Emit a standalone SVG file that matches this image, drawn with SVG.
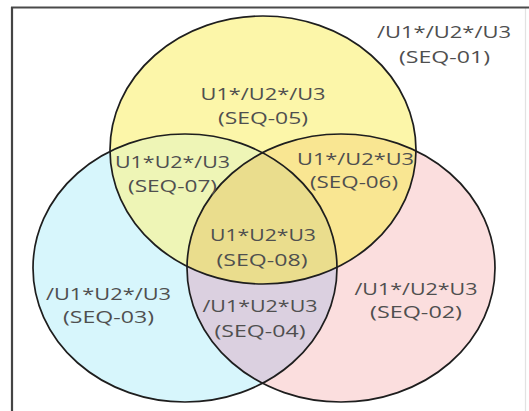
<svg xmlns="http://www.w3.org/2000/svg" width="529" height="411" viewBox="0 0 529 411">
  <style>
    .lbl { font-family: "Open Sans", "Noto Sans", "Liberation Sans", sans-serif; font-size: 17px; fill: #4f4f4f; text-anchor: middle; }
    .ring { fill: none; stroke: #1e1e1e; stroke-width: 1.7; }
  </style>
  <defs>
    <ellipse id="eU1" cx="263" cy="150" rx="153" ry="134"/>
    <ellipse id="eU2" cx="185" cy="268" rx="152" ry="134"/>
    <ellipse id="eU3" cx="341" cy="268" rx="154" ry="134"/>
    <clipPath id="cU1"><use href="#eU1"/></clipPath>
    <clipPath id="cU2"><use href="#eU2"/></clipPath>
    <clipPath id="cU3"><use href="#eU3"/></clipPath>
  </defs>

  <rect x="0" y="0" width="529" height="411" fill="#ffffff"/>

  <g id="frame">
    <line x1="525.5" y1="8" x2="525.5" y2="411" stroke="#e2e2e2" stroke-width="1.2"/>
    <line x1="11" y1="7.5" x2="529" y2="7.5" stroke="#4a4a4a" stroke-width="2.2"/>
    <line x1="12" y1="7" x2="12" y2="411" stroke="#444444" stroke-width="2.2"/>
  </g>

  <g id="fills">
    <use href="#eU2" fill="#d7f6fc"/>
    <use href="#eU3" fill="#fbdede"/>
    <use href="#eU1" fill="#fcf6a9"/>
    <g clip-path="url(#cU2)"><use href="#eU3" fill="#dbd0e0"/></g>
    <g clip-path="url(#cU1)"><use href="#eU2" fill="#eef5b6"/></g>
    <g clip-path="url(#cU1)"><use href="#eU3" fill="#f9e692"/></g>
    <g clip-path="url(#cU1)"><g clip-path="url(#cU2)"><use href="#eU3" fill="#eadd8d"/></g></g>
  </g>

  <g id="set-U2"><use href="#eU2" class="ring"/></g>
  <g id="set-U3"><use href="#eU3" class="ring"/></g>
  <g id="set-U1"><use href="#eU1" class="ring"/></g>

  <g id="seq-01">
    <text class="lbl" x="444" y="38" textLength="134" lengthAdjust="spacingAndGlyphs">/U1*/U2*/U3</text>
    <text class="lbl" x="444.5" y="63" textLength="91" lengthAdjust="spacingAndGlyphs">(SEQ-01)</text>
  </g>
  <g id="seq-05">
    <text class="lbl" x="263" y="100" textLength="125" lengthAdjust="spacingAndGlyphs">U1*/U2*/U3</text>
    <text class="lbl" x="263" y="124" textLength="90" lengthAdjust="spacingAndGlyphs">(SEQ-05)</text>
  </g>
  <g id="seq-07">
    <text class="lbl" x="172.5" y="168" textLength="115" lengthAdjust="spacingAndGlyphs">U1*U2*/U3</text>
    <text class="lbl" x="172.5" y="192" textLength="89" lengthAdjust="spacingAndGlyphs">(SEQ-07)</text>
  </g>
  <g id="seq-06">
    <text class="lbl" x="355.5" y="165" textLength="117" lengthAdjust="spacingAndGlyphs">U1*/U2*U3</text>
    <text class="lbl" x="354" y="188" textLength="88" lengthAdjust="spacingAndGlyphs">(SEQ-06)</text>
  </g>
  <g id="seq-08">
    <text class="lbl" x="263" y="241" textLength="106" lengthAdjust="spacingAndGlyphs">U1*U2*U3</text>
    <text class="lbl" x="262" y="266" textLength="91" lengthAdjust="spacingAndGlyphs">(SEQ-08)</text>
  </g>
  <g id="seq-03">
    <text class="lbl" x="108.5" y="300" textLength="125" lengthAdjust="spacingAndGlyphs">/U1*U2*/U3</text>
    <text class="lbl" x="108.5" y="323" textLength="91" lengthAdjust="spacingAndGlyphs">(SEQ-03)</text>
  </g>
  <g id="seq-04">
    <text class="lbl" x="260" y="312" textLength="115" lengthAdjust="spacingAndGlyphs">/U1*U2*U3</text>
    <text class="lbl" x="260" y="337" textLength="91" lengthAdjust="spacingAndGlyphs">(SEQ-04)</text>
  </g>
  <g id="seq-02">
    <text class="lbl" x="416" y="295" textLength="123" lengthAdjust="spacingAndGlyphs">/U1*/U2*U3</text>
    <text class="lbl" x="416" y="318" textLength="92" lengthAdjust="spacingAndGlyphs">(SEQ-02)</text>
  </g>
</svg>
